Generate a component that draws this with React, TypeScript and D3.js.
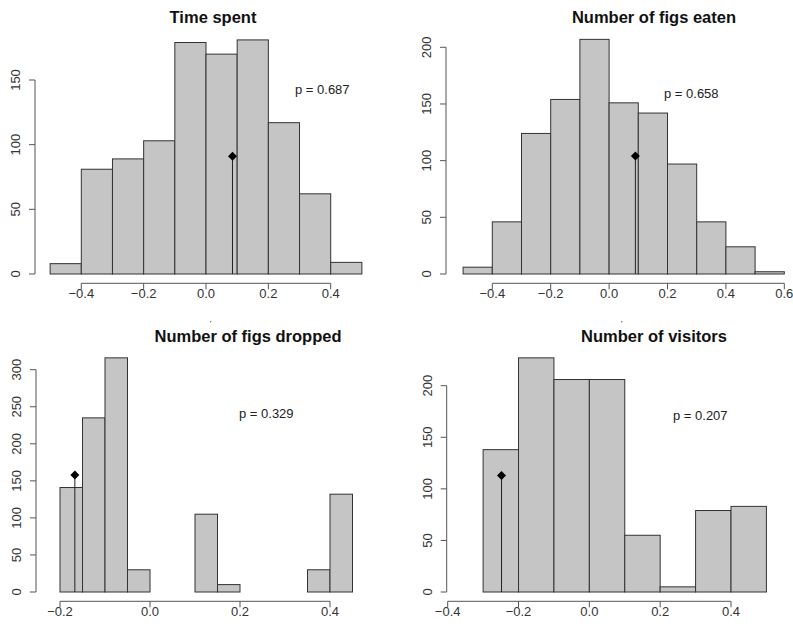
import React, { useEffect, useRef } from 'react';
import * as d3 from 'd3';

// bin edges (lower bound of each bar) and counts
const timeBins = [-0.5, -0.4, -0.3, -0.2, -0.1, 0.0, 0.1, 0.2, 0.3, 0.4];
const timeCounts = [8, 81, 89, 103, 179, 170, 181, 117, 62, 9];

const eatenBins = [-0.5, -0.4, -0.3, -0.2, -0.1, 0.0, 0.1, 0.2, 0.3, 0.4, 0.5];
const eatenCounts = [6, 46, 124, 154, 207, 151, 142, 97, 46, 24, 2];

const droppedBins = [-0.2, -0.15, -0.1, -0.05, 0.0, 0.05, 0.1, 0.15, 0.2, 0.25, 0.3, 0.35, 0.4];
const droppedCounts = [141, 235, 316, 30, 0, 0, 105, 10, 0, 0, 0, 30, 132];

const visitorBins = [-0.3, -0.2, -0.1, 0.0, 0.1, 0.2, 0.3, 0.4];
const visitorCounts = [138, 227, 206, 206, 55, 5, 79, 83];

const titles = ['Time spent', 'Number of figs eaten', 'Number of figs dropped', 'Number of visitors'];
const pLabels = ['p = 0.687', 'p = 0.658', 'p = 0.329', 'p = 0.207'];
const observedX = [0.085, 0.09, -0.167, -0.248];
const observedY = [91, 104, 158, 113];

const xTicks = [
    [-0.4, -0.2, 0.0, 0.2, 0.4],
    [-0.4, -0.2, 0.0, 0.2, 0.4, 0.6],
    [-0.2, 0.0, 0.2, 0.4],
    [-0.4, -0.2, 0.0, 0.2, 0.4],
];
const yTicks = [
    [0, 50, 100, 150],
    [0, 50, 100, 150, 200],
    [0, 50, 100, 150, 200, 250, 300],
    [0, 50, 100, 150, 200],
];

const panels = [
    { bins: timeBins, counts: timeCounts, width: 0.1 },
    { bins: eatenBins, counts: eatenCounts, width: 0.1 },
    { bins: droppedBins, counts: droppedCounts, width: 0.05 },
    { bins: visitorBins, counts: visitorCounts, width: 0.1 },
];

// pixel layout of each panel (as R placed them)
const layout = [
    { xd: [-0.4, 0.4], xr: [81.3, 330.7], yd: [0, 150], yr: [274, 80], yAxisX: 35, xAxisY: 283.3, titleX: 213, titleY: 17, pX: 295, pY: 89, dot: null },
    { xd: [-0.4, 0.6], xr: [492.3, 784.3], yd: [0, 200], yr: [274, 47.3], yAxisX: 446, xAxisY: 283.3, titleX: 654, titleY: 17, pX: 664, pY: 92.7, dot: null },
    { xd: [-0.2, 0.4], xr: [60, 330], yd: [0, 300], yr: [592, 369.7], yAxisX: 36, xAxisY: 601.3, titleX: 248, titleY: 336, pX: 239, pY: 413, dot: [210.7, 321.7] },
    { xd: [-0.4, 0.4], xr: [447.7, 731], yd: [0, 200], yr: [592, 385.7], yAxisX: 446.7, xAxisY: 601.3, titleX: 654, titleY: 336, pX: 673, pY: 415, dot: [621.7, 321.7] },
];

const fmt = (v: number) => (v < 0 ? '\u2212' : '') + Math.abs(v).toFixed(1);

const App = () => {
    const ref = useRef<SVGSVGElement>(null);

    useEffect(() => {
        const svg = d3.select(ref.current);
        svg.selectAll('*').remove();

        panels.forEach((p, i) => {
            const L = layout[i];
            const x = d3.scaleLinear().domain(L.xd).range(L.xr);
            const y = d3.scaleLinear().domain(L.yd).range(L.yr);
            const g = svg.append('g');

            // bars
            g.selectAll('rect')
                .data(p.bins.map((b, j) => ({ b, c: p.counts[j] })))
                .enter()
                .append('rect')
                .attr('x', d => x(d.b))
                .attr('width', d => x(d.b + p.width) - x(d.b))
                .attr('y', d => y(d.c))
                .attr('height', d => y(0) - y(d.c))
                .attr('fill', '#c5c5c5')
                .attr('stroke', '#333')
                .attr('stroke-width', 1);

            // observed value
            const ox = x(observedX[i]);
            const oy = y(observedY[i]);
            g.append('line')
                .attr('x1', ox).attr('x2', ox)
                .attr('y1', y(0)).attr('y2', oy)
                .attr('stroke', '#222').attr('stroke-width', 1);
            g.append('path')
                .attr('d', `M${ox},${oy - 4.5}L${ox + 4.5},${oy}L${ox},${oy + 4.5}L${ox - 4.5},${oy}Z`)
                .attr('fill', '#000');

            // x axis
            const xt = xTicks[i];
            g.append('line')
                .attr('x1', x(xt[0])).attr('x2', x(xt[xt.length - 1]))
                .attr('y1', L.xAxisY).attr('y2', L.xAxisY)
                .attr('stroke', '#555');
            xt.forEach(t => {
                g.append('line')
                    .attr('x1', x(t)).attr('x2', x(t))
                    .attr('y1', L.xAxisY).attr('y2', L.xAxisY + 6)
                    .attr('stroke', '#555');
                g.append('text')
                    .attr('x', x(t)).attr('y', L.xAxisY + 15)
                    .attr('text-anchor', 'middle')
                    .attr('font-size', 13)
                    .attr('fill', '#333')
                    .text(fmt(t));
            });

            // y axis
            const yt = yTicks[i];
            g.append('line')
                .attr('x1', L.yAxisX).attr('x2', L.yAxisX)
                .attr('y1', y(yt[0])).attr('y2', y(yt[yt.length - 1]))
                .attr('stroke', '#555');
            yt.forEach(t => {
                g.append('line')
                    .attr('x1', L.yAxisX - 6).attr('x2', L.yAxisX)
                    .attr('y1', y(t)).attr('y2', y(t))
                    .attr('stroke', '#555');
                g.append('text')
                    .attr('transform', `translate(${L.yAxisX - 15},${y(t)}) rotate(-90)`)
                    .attr('text-anchor', 'middle')
                    .attr('font-size', 13)
                    .attr('fill', '#333')
                    .text(t);
            });

            // title and p value
            g.append('text')
                .attr('x', L.titleX).attr('y', L.titleY + 6)
                .attr('text-anchor', 'middle')
                .attr('font-size', 16.5)
                .attr('font-weight', 'bold')
                .attr('fill', '#111')
                .text(titles[i]);
            g.append('text')
                .attr('x', L.pX).attr('y', L.pY + 5)
                .attr('font-size', 13)
                .attr('fill', '#222')
                .text(pLabels[i]);

            // stray dot left by the empty x label
            if (L.dot) {
                g.append('circle')
                    .attr('cx', L.dot[0]).attr('cy', L.dot[1])
                    .attr('r', 0.7)
                    .attr('fill', '#666');
            }
        });
    }, []);

    return (
        <svg
            ref={ref}
            width={793}
            height={628}
            style={{ position: 'absolute', left: 0, top: 0, background: '#fff', fontFamily: 'Liberation Sans, Arial, sans-serif' }}
        />
    );
};

export default App;
